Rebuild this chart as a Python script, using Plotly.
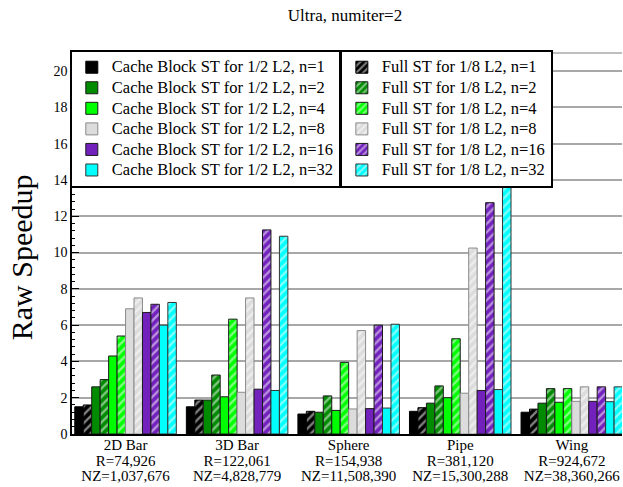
import plotly.graph_objects as go

# Matrix groups and their sizes (shown as multi-line category labels)
groups = ["2D Bar", "3D Bar", "Sphere", "Pipe", "Wing"]
rows = ["R=74,926", "R=122,061", "R=154,938", "R=381,120", "R=924,672"]
nonzeros = ["NZ=1,037,676", "NZ=4,828,779", "NZ=11,508,390", "NZ=15,300,288", "NZ=38,360,266"]

threads = [1, 2, 4, 8, 16, 32]

# Raw speedup, cache-blocked sparse tiling (1/2 of L2)
cb_n1 = [1.5, 1.5, 1.1, 1.25, 1.2]
cb_n2 = [2.6, 1.87, 1.2, 1.7, 1.7]
cb_n4 = [4.3, 2.05, 1.3, 2.0, 1.75]
cb_n8 = [6.9, 2.3, 1.38, 2.25, 1.8]
cb_n16 = [6.7, 2.47, 1.4, 2.4, 1.8]
cb_n32 = [6.0, 2.4, 1.43, 2.45, 1.78]

# Raw speedup, full sparse tiling (1/8 of L2)
full_n1 = [1.6, 1.87, 1.25, 1.45, 1.37]
full_n2 = [3.0, 3.25, 2.1, 2.65, 2.5]
full_n4 = [5.4, 6.33, 3.95, 5.25, 2.5]
full_n8 = [7.5, 7.5, 5.7, 10.25, 2.6]
full_n16 = [7.15, 11.25, 6.0, 12.75, 2.6]
full_n32 = [7.25, 10.9, 6.05, 13.7, 2.6]

cb_series = [cb_n1, cb_n2, cb_n4, cb_n8, cb_n16, cb_n32]
full_series = [full_n1, full_n2, full_n4, full_n8, full_n16, full_n32]

colors = ["#000000", "#008b00", "#00ff00", "#dcdcdc", "#7221bc", "#00ffff"]
outlines = ["#000000", "#1a1a1a", "#1a1a1a", "#8a8a8a", "#1a1a1a", "#333333"]

FONT = "Liberation Serif, Times New Roman, Times, serif"


def big(text, px):
    # enlarge glyphs while keeping the tighter line pitch of the base font size
    return f'<span style="font-size:{px}px">{text}</span>'


labels = ["<br>".join(big(t, 15) for t in (g, r, nz))
          for g, r, nz in zip(groups, rows, nonzeros)]

fig = go.Figure()
for n, cb, full, col, oc in zip(threads, cb_series, full_series, colors, outlines):
    fig.add_trace(go.Bar(
        x=labels, y=cb, name=big(f"Cache Block ST for 1/2 L2, n={n}", 16.5),
        marker=dict(color=col, line=dict(color=oc, width=1)),
        legend="legend",
    ))
    fig.add_trace(go.Bar(
        x=labels, y=full, name=big(f"Full ST for 1/8 L2, n={n}", 16.5),
        marker=dict(color=col, line=dict(color=oc, width=1),
                    pattern=dict(shape="/", bgcolor=col, fgcolor="white",
                                 size=6, solidity=0.4)),
        legend="legend2",
    ))

legend_style = dict(
    font=dict(family=FONT, size=13.5, color="black"),
    bgcolor="white", bordercolor="black", borderwidth=2,
    yanchor="top", y=1.008, xanchor="left",
    tracegroupgap=0, itemwidth=30,
)

fig.update_layout(
    width=623, height=487,
    margin=dict(l=72, r=1, t=53, b=53),
    paper_bgcolor="white", plot_bgcolor="white",
    font=dict(family=FONT, color="black"),
    barmode="group", bargap=0.09, bargroupgap=0,
    title=dict(text="Ultra, numiter=2", x=345 / 623, xanchor="center",
               y=1 - 15 / 487, yanchor="middle",
               font=dict(family=FONT, size=17, color="black")),
    legend=dict(x=-0.004, **legend_style),
    legend2=dict(x=0.487, **legend_style),
    xaxis=dict(
        range=[-0.48, 4.45], showgrid=False, ticks="",
        showline=True, linecolor="black", linewidth=1.5,
        tickfont=dict(family=FONT, size=12, color="black"),
    ),
    yaxis=dict(
        range=[0, 21], dtick=2, tick0=0,
        showgrid=True, gridcolor="#a8a8a8", gridwidth=1.5,
        showline=True, linecolor="black", linewidth=1.5,
        ticks="inside", ticklen=7, tickcolor="black",
        minor=dict(dtick=0.4, ticks="inside", ticklen=3, tickcolor="black", showgrid=False),
        tickfont=dict(family=FONT, size=14, color="black"),
        zeroline=False,
    ),
    annotations=[dict(
        text="Raw Speedup", textangle=-90, showarrow=False,
        xref="paper", yref="paper", x=-0.092, y=0.465,
        xanchor="center", yanchor="middle",
        font=dict(family=FONT, size=30, color="black"),
    )],
    shapes=[dict(type="line", xref="paper", yref="paper", x0=0, x1=1, y0=1, y1=1,
                 line=dict(color="#a8a8a8", width=1.5))],
)

fig.write_html("out.html")
